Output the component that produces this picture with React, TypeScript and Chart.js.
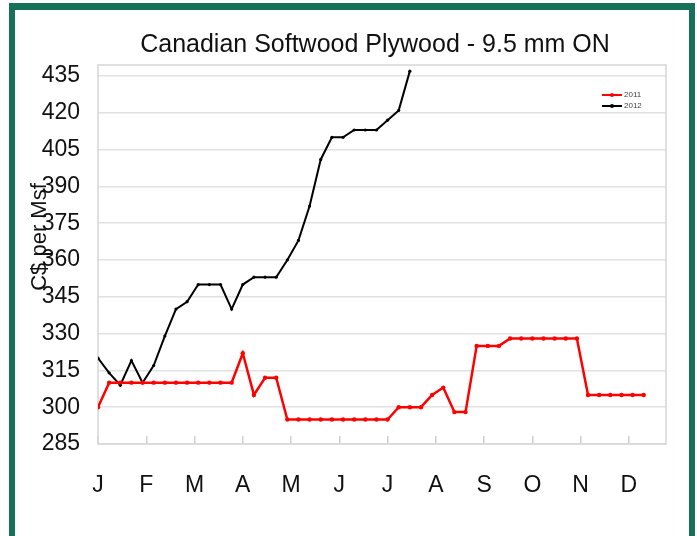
import React, { useEffect, useRef } from 'react';
import { Chart, registerables } from 'chart.js';

Chart.register(...registerables);

const TITLE = 'Canadian Softwood Plywood - 9.5 mm ON';
const Y_TITLE = 'C$ per Msf';
const monthLabels = ['J', 'F', 'M', 'A', 'M', 'J', 'J', 'A', 'S', 'O', 'N', 'D'];
const yTickValues = [285, 300, 315, 330, 345, 360, 375, 390, 405, 420, 435];
const seriesNames = ['2011', '2012'];
const seriesColors = ['#ff0000', '#000000'];

// weekly prices
const prices2011 = [
  300, 310, 310, 310, 310, 310, 310, 310, 310, 310, 310, 310, 310, 322, 305, 312, 312,
  295, 295, 295, 295, 295, 295, 295, 295, 295, 295, 300, 300, 300, 305, 308, 298, 298,
  325, 325, 325, 328, 328, 328, 328, 328, 328, 328, 305, 305, 305, 305, 305, 305,
];
const prices2012 = [
  320, 314, 309, 319, 310, 317, 329, 340, 343, 350, 350, 350, 340, 350, 353, 353, 353,
  360, 368, 382, 401, 410, 410, 413, 413, 413, 417, 421, 437,
];

const WEEKS_PER_YEAR = 52;
const FONT = "'Liberation Sans', Arial, sans-serif";

export default function App() {
  const ref = useRef<HTMLCanvasElement | null>(null);

  useEffect(() => {
    if (!ref.current) return;

    const framePlugin = {
      id: 'plotFrame',
      beforeDatasetsDraw(chart: any) {
        const { ctx, chartArea } = chart;
        ctx.save();
        ctx.strokeStyle = '#d6d6d6';
        ctx.lineWidth = 1.5;
        ctx.strokeRect(chartArea.left, chartArea.top, chartArea.right - chartArea.left, chartArea.bottom - chartArea.top);
        ctx.restore();
      },
    };

    const textPlugin = {
      id: 'texts',
      afterDraw(chart: any) {
        const { ctx } = chart;
        ctx.save();
        ctx.fillStyle = '#111';
        ctx.font = `25px ${FONT}`;
        ctx.textAlign = 'center';
        ctx.textBaseline = 'middle';
        ctx.fillText(TITLE, 375, 45);

        ctx.translate(40, 237);
        ctx.rotate(-Math.PI / 2);
        ctx.font = `22px ${FONT}`;
        ctx.fillText(Y_TITLE, 0, 0);
        ctx.restore();

        // legend
        ctx.save();
        chart.data.datasets.forEach((ds: any, i: number) => {
          const y = 95 + i * 11;
          ctx.strokeStyle = ds.borderColor;
          ctx.fillStyle = ds.borderColor;
          ctx.lineWidth = 2;
          ctx.beginPath();
          ctx.moveTo(602, y);
          ctx.lineTo(622, y);
          ctx.stroke();
          ctx.beginPath();
          ctx.arc(612, y, 2, 0, Math.PI * 2);
          ctx.fill();
          ctx.fillStyle = '#444';
          ctx.font = `8px ${FONT}`;
          ctx.textAlign = 'left';
          ctx.textBaseline = 'middle';
          ctx.fillText(ds.label, 624, y);
        });
        ctx.restore();
      },
    };

    const chart = new Chart(ref.current, {
      type: 'line',
      data: {
        datasets: [
          {
            label: seriesNames[0],
            data: prices2011.map((v, i) => ({ x: i, y: v })),
            borderColor: seriesColors[0],
            backgroundColor: seriesColors[0],
            borderWidth: 2.5,
            pointRadius: 2.2,
            pointBorderWidth: 0,
            pointBackgroundColor: seriesColors[0],
            tension: 0,
          },
          {
            label: seriesNames[1],
            data: prices2012.map((v, i) => ({ x: i, y: v })),
            borderColor: seriesColors[1],
            backgroundColor: seriesColors[1],
            borderWidth: 2,
            pointRadius: 1.6,
            pointBorderWidth: 0,
            pointBackgroundColor: seriesColors[1],
            tension: 0,
          },
        ],
      },
      options: {
        animation: false,
        responsive: false,
        devicePixelRatio: 1,
        layout: { padding: { top: 65, left: 0, right: 31, bottom: 0 } },
        plugins: {
          legend: { display: false },
          title: { display: false },
          tooltip: { enabled: false },
        },
        scales: {
          x: {
            type: 'linear',
            min: 0,
            max: 51,
            afterBuildTicks(scale: any) {
              scale.ticks = monthLabels.map((_, i) => ({ value: (i * WEEKS_PER_YEAR) / 12 }));
            },
            afterFit(scale: any) {
              scale.height = 92;
            },
            grid: {
              drawOnChartArea: false,
              drawTicks: true,
              tickLength: -8,
              color: '#cfcfcf',
              lineWidth: 1.5,
            },
            border: { display: false },
            ticks: {
              autoSkip: false,
              maxRotation: 0,
              padding: 36,
              color: '#111',
              font: { family: FONT, size: 23 },
              callback: (_v: any, i: number) => monthLabels[i],
            },
          },
          y: {
            min: 285,
            max: 439.5,
            afterBuildTicks(scale: any) {
              scale.ticks = yTickValues.map((v) => ({ value: v }));
            },
            afterFit(scale: any) {
              scale.width = 98;
            },
            grid: {
              drawTicks: false,
              color: '#e2e2e2',
              lineWidth: 1.5,
            },
            border: { display: false },
            ticks: {
              padding: 18,
              color: '#111',
              font: { family: FONT, size: 23 },
            },
          },
        },
      },
      plugins: [framePlugin, textPlugin],
    } as any);

    return () => chart.destroy();
  }, []);

  return (
    <div style={{ position: 'fixed', left: 0, top: 0, width: 697, height: 536, overflow: 'hidden', background: '#fff' }}>
      <canvas ref={ref} width={697} height={536} style={{ position: 'absolute', left: 0, top: 0, width: 697, height: 536 }} />
      <div
        style={{
          position: 'absolute',
          left: 9,
          top: 3,
          width: 686,
          height: 560,
          boxSizing: 'border-box',
          borderStyle: 'solid',
          borderColor: '#17705a',
          borderWidth: '7px 6px 0 6px',
          pointerEvents: 'none',
        }}
      />
    </div>
  );
}
